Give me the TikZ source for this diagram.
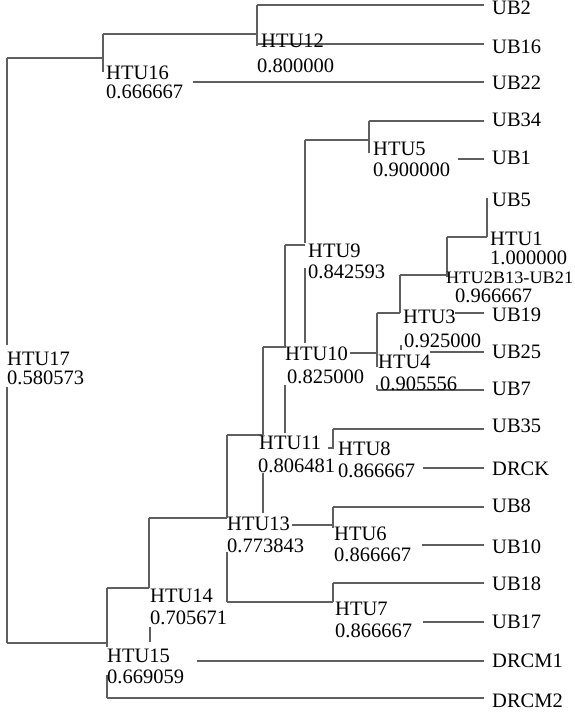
\documentclass[tikz,border=0pt]{standalone}
\usepackage{fontspec}
\setmainfont{Liberation Serif}
\definecolor{linecol}{RGB}{95,95,95}
\begin{document}
\begin{tikzpicture}[x=1pt,y=-1pt,
  ln/.style={draw=linecol,line width=1.3pt},
  lbl/.style={anchor=base west,inner sep=0pt,text height=14pt,text depth=0pt,font=\fontsize{20.5}{20.5}\selectfont},
  two/.style={anchor=north west,inner sep=0pt,align=left,font=\fontsize{20.5}{18.5}\selectfont},
  sml/.style={anchor=base west,inner sep=0pt,text height=12pt,text depth=0pt,font=\fontsize{17.5}{17.5}\selectfont}]
\useasboundingbox (0,0) rectangle (574,719);
% ---------- leaves ----------
\foreach \n/\y/\x/\b in {UB2/5/257/10, UB16/44/257/10, UB22/82/193/8, UB34/121/369/6,
  UB1/159/458/6, UB19/313/455/8, UB25/352/430/6, UB7/390/377/5, UB35/429/333/3,
  DRCK/468/423/7, UB8/507/333/5, UB10/545/422/8, UB18/583/333/7, UB17/622/423/6,
  DRCM1/661/197/6, DRCM2/698/107/9} {
  \coordinate (s-\n) at (\x,\y);
  \coordinate (e-\n) at (484,\y);
  \draw[ln] (s-\n) -- (e-\n);
  \node[lbl] (l-\n) at (492,\y+\b) {\n};
}
\node[lbl] (l-UB5) at (492,207) {UB5};
% ---------- junction coordinates ----------
\coordinate (r1) at (7,58);   \coordinate (r2) at (7,345);
\coordinate (r3) at (7,387);  \coordinate (r4) at (7,643);
\coordinate (h16a) at (103,34); \coordinate (h16b) at (103,72);
\coordinate (h12a) at (257,5);  \coordinate (h12b) at (257,46);
\coordinate (h15a) at (107,588); \coordinate (h15b) at (107,647);
\coordinate (h15c) at (107,675); \coordinate (h15d) at (107,698);
\coordinate (h14a) at (149,518); \coordinate (h14t1) at (150,627); \coordinate (h14t2) at (150,642);
\coordinate (h13a) at (227,435); \coordinate (h13b) at (227,518);
\coordinate (h13c) at (227,552); \coordinate (h13d) at (227,602);
\coordinate (h13e) at (292,525);
\coordinate (h7a) at (333,583); \coordinate (h7b) at (333,602);
\coordinate (h6a) at (333,507); \coordinate (h6b) at (333,528);
\coordinate (h11a) at (263,347); \coordinate (h11b) at (263,435);
\coordinate (h11c) at (263,473); \coordinate (h11d) at (263,513);
\coordinate (h10x1) at (285,385); \coordinate (h10x2) at (285,433);
\coordinate (h8a) at (333,429); \coordinate (h8b) at (333,448); \coordinate (h8c) at (328,448);
\coordinate (h10a) at (285,245); \coordinate (h10b) at (285,348);
\coordinate (h10c) at (350,353);
\coordinate (h9a) at (305,140); \coordinate (h9b) at (305,243);
\coordinate (h9c) at (305,268); \coordinate (h9d) at (305,343);
\coordinate (h5a) at (369,121); \coordinate (h5b) at (369,153);
\coordinate (h4a) at (377,313); \coordinate (h4b) at (377,367);
\coordinate (h4c) at (377,385); \coordinate (h4d) at (377,390);
\coordinate (h3a) at (400,275); \coordinate (h3t1) at (401,345); \coordinate (h3t2) at (401,350);
\coordinate (h2a) at (447,237); \coordinate (h2b) at (447,277);
\coordinate (h1a) at (487,198);
% ---------- connectors ----------
\draw[ln] (r1) -- (r2);  \draw[ln] (r3) -- (r4);
\draw[ln] (r1) -- (r1 -| h16a);
\draw[ln] (r4) -- (r4 -| h15a);
\draw[ln] (h16a) -- (h16b);
\draw[ln] (h16a) -- (h16a -| h12a);
\draw[ln] (h12a) -- (h12b);
\draw[ln] (h12a) -- (e-UB2 |- h12a);
\draw[ln] (h15a) -- (h15b);  \draw[ln] (h15c) -- (h15d);
\draw[ln] (h15a) -- (h15a -| h14a);
\draw[ln] (h15a -| h14a) -- (h14a);
\draw[ln] (h14t1) -- (h14t2);
\draw[ln] (h14a) -- (h13b);
\draw[ln] (h13a) -- (h13b);  \draw[ln] (h13c) -- (h13d);
\draw[ln] (h13d) -- (h7b);
\draw[ln] (h7a) -- (h7b);
\draw[ln] (h13e) -- (h13e -| h6a);
\draw[ln] (h6a) -- (h6b);
\draw[ln] (h13a) -- (h11b);
\draw[ln] (h11a) -- (h11b);  \draw[ln] (h11c) -- (h11d);
\draw[ln] (h11a) -- (h11a -| h10a);
\draw[ln] (h10x1) -- (h10x2);
\draw[ln] (h8a) -- (h8b) -- (h8c);
\draw[ln] (h10a) -- (h10b);
\draw[ln] (h10a) -- (h10a -| h9a);
\draw[ln] (h10c) -- (h10c -| h4a);
\draw[ln] (h9a) -- (h9b);  \draw[ln] (h9c) -- (h9d);
\draw[ln] (h9a) -- (h9a -| h5a);
\draw[ln] (h5a) -- (h5b);
\draw[ln] (h4a) -- (h4b);  \draw[ln] (h4c) -- (h4d);
\draw[ln] (h4a) -- (h4a -| h3a);
\draw[ln] (h3a) -- (h4a -| h3a);
\draw[ln] (h3t1) -- (h3t2);
\draw[ln] (h3a) -- (h3a -| h2a);
\draw[ln] (h2a) -- (h2b);
\draw[ln] (h2a) -- (h2a -| h1a);
\draw[ln] (h1a) -- (h2a -| h1a);
% ---------- internal labels ----------
\node[two] (t17) at (7,352) {HTU17\\0.580573};
\node[lbl] (t16) at (106,80) {HTU16};  \node[lbl] (v16) at (106,99) {0.666667};
\node[lbl] (t12) at (261,48) {HTU12};  \node[lbl] (v12) at (257,73) {0.800000};
\node[lbl] (t5) at (373,156) {HTU5};   \node[lbl] (v5) at (373,177) {0.900000};
\node[lbl] (t9) at (308,257) {HTU9};   \node[lbl] (v9) at (308,278) {0.842593};
\node[two] (t1) at (490,232) {HTU1\\1.000000};
\node[sml] (t2) at (446,283) {\scalebox{1.045}[1]{HTU2B13-UB21}};
\node[lbl] (v2) at (455,302) {0.966667};
\node[lbl] (t3) at (403,323) {HTU3};   \node[lbl] (v3) at (404,347) {0.925000};
\node[lbl] (t10) at (285,360) {HTU10}; \node[lbl] (v10) at (287,383) {0.825000};
\node[lbl] (t4) at (378,368) {HTU4};   \node[lbl] (v4) at (380,390) {0.905556};
\node[lbl] (t11) at (259,449) {HTU11}; \node[lbl] (v11) at (258,472) {0.806481};
\node[lbl] (t8) at (338,455) {HTU8};   \node[lbl] (v8) at (338,477) {0.866667};
\node[lbl] (t13) at (227,530) {HTU13}; \node[lbl] (v13) at (227,552) {0.773843};
\node[lbl] (t6) at (334,540) {HTU6};   \node[lbl] (v6) at (334,561) {0.866667};
\node[lbl] (t7) at (335,615) {HTU7};   \node[lbl] (v7) at (335,637) {0.866667};
\node[lbl] (t14) at (150,602) {HTU14}; \node[lbl] (v14) at (150,624) {0.705671};
\node[lbl] (t15) at (107,662) {HTU15}; \node[lbl] (v15) at (107,683) {0.669059};
\end{tikzpicture}
\end{document}
